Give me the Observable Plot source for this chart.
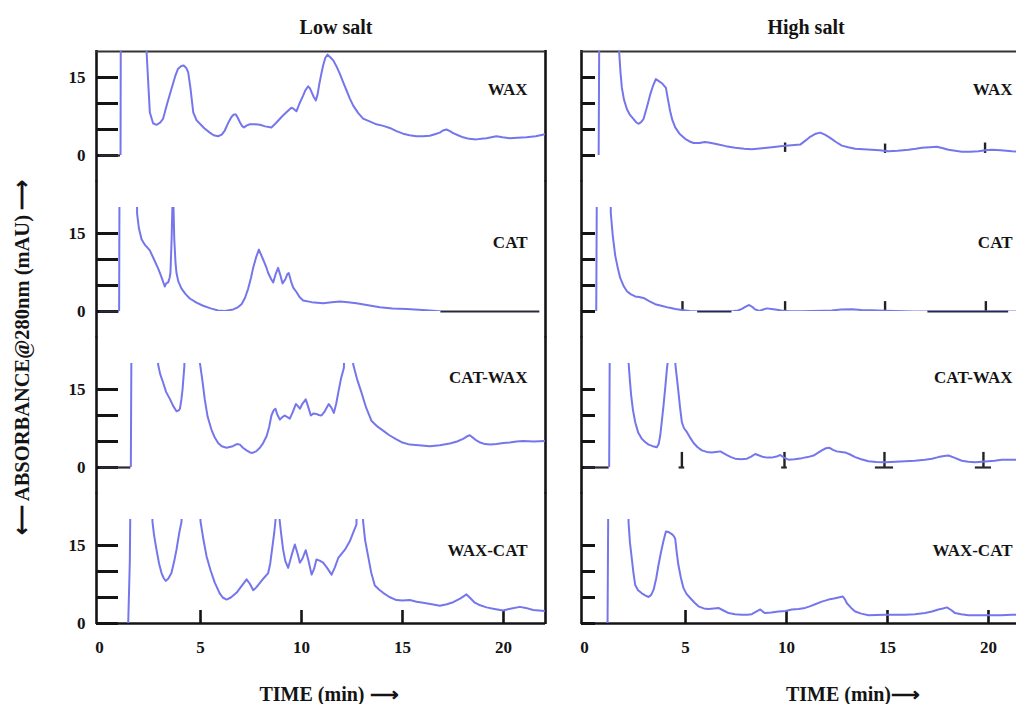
<!DOCTYPE html>
<html><head><meta charset="utf-8">
<script src="https://cdn.jsdelivr.net/npm/d3@7"></script>
<script src="https://cdn.jsdelivr.net/npm/@observablehq/plot@0.6"></script>
<style>
html,body{margin:0;padding:0;background:#fff;overflow:hidden;width:1016px;height:704px;}
#chart{width:1016px;height:704px;overflow:hidden;position:relative;}
</style></head><body><div id="chart"></div>
<script>
// ---------- categories & ticks ----------
const salts = ["Low salt", "High salt"];
const traces = ["WAX", "CAT", "CAT-WAX", "WAX-CAT"];
const xTickValues = [0, 5, 10, 15, 20];
const yTickValues = [0, 5, 10, 15];
const yTickLabelValues = [0, 15];

// ---------- chromatograms: [time (min), absorbance (mAU)] ; 40 = off-scale ----------
const lowWAX = [[1.0,0],[1.04,0],[1.06,40],[2.28,40],[2.33,19.9],[2.49,8.3],[2.65,6.2],[2.82,5.9],[3.0,6.3],[3.15,7.1],[3.35,10],[3.56,12.8],[3.75,15.3],[3.89,16.7],[4.05,17.2],[4.17,17.3],[4.3,16.8],[4.39,16.0],[4.5,13],[4.64,8.3],[4.8,6.8],[4.97,6.1],[5.2,5.2],[5.46,4.4],[5.65,3.9],[5.87,3.7],[6.05,4.0],[6.2,4.8],[6.4,6.5],[6.53,7.4],[6.65,7.9],[6.75,7.9],[6.85,7.2],[6.95,6.4],[7.05,5.7],[7.15,5.4],[7.3,5.8],[7.44,6.0],[7.7,6.0],[7.94,5.9],[8.2,5.6],[8.51,5.4],[8.75,6.3],[9.01,7.4],[9.25,8.3],[9.5,9.2],[9.6,9.0],[9.75,8.5],[9.9,10],[10.08,11.5],[10.2,12.6],[10.33,13.3],[10.42,12.9],[10.5,12.2],[10.6,11.3],[10.71,10.6],[10.8,11.8],[10.87,13.5],[10.97,15.5],[11.07,17.3],[11.18,18.8],[11.29,19.4],[11.45,18.8],[11.57,18.3],[11.75,17.0],[11.9,15.7],[12.05,14.2],[12.23,12.5],[12.4,10.9],[12.56,9.6],[12.8,8.2],[13.05,7.1],[13.4,6.5],[13.71,6.0],[14.05,5.7],[14.37,5.3],[14.7,4.7],[15.03,4.2],[15.35,3.9],[15.69,3.7],[16.0,3.7],[16.35,3.8],[16.6,4.1],[16.85,4.4],[17.0,4.8],[17.18,5.0],[17.35,4.7],[17.51,4.3],[17.75,3.9],[18.0,3.5],[18.3,3.2],[18.66,3.1],[18.9,3.2],[19.16,3.3],[19.4,3.5],[19.65,3.7],[19.95,3.5],[20.31,3.3],[20.7,3.4],[21.14,3.5],[21.6,3.7],[22.05,4.1]];
const lowCAT = [[0.97,0],[1.0,40],[1.83,40],[1.86,18.8],[1.95,16],[2.08,13.9],[2.25,12.8],[2.49,11.75],[2.7,10],[2.9,8.3],[3.05,6.8],[3.23,4.8],[3.3,5.4],[3.4,5.6],[3.47,6.5],[3.51,7.4],[3.57,14],[3.61,20.5],[3.66,20.5],[3.7,14],[3.76,9.5],[3.81,7.4],[3.9,5.8],[4.06,4.4],[4.25,3.4],[4.47,2.5],[4.8,1.7],[5.13,1.1],[5.5,0.6],[5.87,0.2],[6.2,0.1],[6.62,0.4],[6.85,0.8],[7.03,1.4],[7.2,2.6],[7.36,4.4],[7.5,6.5],[7.6,8.3],[7.75,10.4],[7.89,11.9],[8.0,10.9],[8.1,10.0],[8.25,8.6],[8.35,7.4],[8.5,6.2],[8.6,5.6],[8.72,7.2],[8.84,8.4],[8.95,7],[9.06,5.4],[9.2,6.2],[9.3,7.2],[9.37,7.4],[9.48,5.8],[9.59,4.6],[9.75,3.75],[9.9,2.8],[10.08,2.1],[10.5,1.8],[11.07,1.6],[11.5,1.8],[11.9,1.9],[12.3,1.8],[12.72,1.6],[13.3,1.2],[13.88,0.8],[14.5,0.6],[15.2,0.5],[16.0,0.3],[16.85,0.05]];
const lowCATWAX = [[1.55,0],[1.6,40],[2.85,40],[2.9,19.8],[3.0,18],[3.15,16.3],[3.3,14.5],[3.48,13.2],[3.65,11.8],[3.81,10.8],[3.92,11.0],[3.98,11.3],[4.05,13],[4.11,15],[4.2,19.5],[4.24,40],[4.93,40],[4.97,20.1],[5.1,16.5],[5.21,13.1],[5.35,9.8],[5.54,7.3],[5.7,5.8],[5.87,4.7],[6.05,4.1],[6.29,3.8],[6.6,4.1],[6.8,4.5],[6.95,4.4],[7.1,3.8],[7.28,3.3],[7.45,2.9],[7.57,2.8],[7.75,3.1],[7.94,3.8],[8.1,4.7],[8.27,6.0],[8.4,7.8],[8.51,10.0],[8.62,11.0],[8.71,11.3],[8.8,10.2],[8.93,9.2],[9.05,9.7],[9.17,10.0],[9.3,9.7],[9.42,9.4],[9.55,10.5],[9.72,12.2],[9.82,11.8],[9.92,11.3],[10.05,12.3],[10.21,13.1],[10.32,11.8],[10.46,10.0],[10.6,10.4],[10.74,10.3],[10.85,10.1],[10.99,10.0],[11.15,10.8],[11.35,12.2],[11.48,11.5],[11.6,10.5],[11.72,12.3],[11.82,14.4],[11.95,17],[12.1,19.2],[12.18,40],[12.52,40],[12.56,19.8],[12.75,17],[12.97,14.4],[13.2,11.5],[13.46,9.0],[13.75,7.9],[14.04,7.1],[14.35,6.2],[14.7,5.4],[15.0,4.8],[15.36,4.4],[15.8,4.3],[16.35,4.1],[16.85,4.3],[17.34,4.6],[17.7,5.0],[18.0,5.5],[18.2,6.0],[18.33,6.2],[18.5,5.7],[18.66,5.2],[18.85,4.8],[19.08,4.5],[19.35,4.4],[19.65,4.5],[20.0,4.7],[20.31,4.8],[20.65,5.0],[20.97,5.1],[21.5,5.0],[22.05,5.1]];
const lowWAXCAT = [[1.42,0],[1.5,12],[1.57,40],[2.58,40],[2.62,19.6],[2.7,17],[2.82,14.2],[2.95,11.5],[3.07,9.7],[3.18,8.7],[3.28,8.2],[3.4,8.6],[3.56,9.7],[3.7,12],[3.81,14.2],[3.95,17.5],[4.06,19.6],[4.1,40],[4.95,40],[5.0,19.6],[5.15,16],[5.3,12.9],[5.5,10.2],[5.71,7.8],[5.95,5.8],[6.1,5.0],[6.29,4.6],[6.5,5.0],[6.78,5.9],[7.05,7.3],[7.28,8.5],[7.45,7.6],[7.61,6.4],[7.75,6.9],[7.94,7.8],[8.15,8.8],[8.35,9.7],[8.45,11.5],[8.56,14.8],[8.65,17.5],[8.73,20.5],[8.9,20.5],[9.0,17],[9.09,14.2],[9.2,12],[9.34,10.7],[9.5,13],[9.67,15.2],[9.8,13.5],[9.92,11.7],[10.05,12.5],[10.21,14.1],[10.35,12],[10.5,9.4],[10.62,10.5],[10.74,12.3],[10.9,12.1],[11.07,11.7],[11.25,10.8],[11.49,9.4],[11.65,10.8],[11.82,12.6],[12.0,13.5],[12.15,14.2],[12.39,15.8],[12.55,17.4],[12.72,19.0],[12.8,40],[13.0,40],[13.05,19.6],[13.15,16],[13.3,12.9],[13.45,9.8],[13.63,7.3],[13.85,6.5],[14.04,5.9],[14.35,5.1],[14.7,4.5],[15.0,4.4],[15.36,4.5],[15.7,4.2],[16.02,4.0],[16.45,3.7],[16.85,3.4],[17.2,3.7],[17.51,4.1],[17.85,4.8],[18.17,5.6],[18.35,4.9],[18.58,4.0],[18.85,3.5],[19.16,3.1],[19.55,2.8],[19.98,2.5],[20.4,2.9],[20.81,3.2],[21.1,3.0],[21.47,2.6],[22.05,2.4]];

const highWAX = [[0.7,0],[0.75,40],[1.68,40],[1.72,19.6],[1.78,16],[1.85,13],[1.95,10.8],[2.1,8.9],[2.25,7.8],[2.43,7.0],[2.55,6.4],[2.67,6.1],[2.8,6.4],[2.92,7.0],[3.08,9.2],[3.25,11.7],[3.4,13.5],[3.53,14.7],[3.68,14.3],[3.83,13.9],[4.03,13.0],[4.12,11],[4.24,8.5],[4.35,6.8],[4.49,5.4],[4.7,4.2],[4.98,3.2],[5.2,2.7],[5.4,2.4],[5.7,2.4],[5.95,2.6],[6.14,2.5],[6.4,2.3],[6.63,2.1],[7.0,1.8],[7.46,1.5],[7.9,1.3],[8.28,1.2],[8.8,1.4],[9.27,1.6],[9.7,1.8],[10.1,1.9],[10.4,2.0],[10.68,2.1],[10.95,2.9],[11.17,3.6],[11.45,4.2],[11.67,4.4],[11.9,4.0],[12.16,3.4],[12.45,2.6],[12.74,1.9],[13.05,1.6],[13.4,1.3],[13.8,1.2],[14.22,1.1],[14.6,1.0],[15.05,0.8],[15.5,0.9],[16.04,1.1],[16.4,1.3],[16.7,1.5],[17.1,1.6],[17.44,1.7],[17.75,1.4],[18.02,1.1],[18.35,0.9],[18.68,0.7],[19.1,0.7],[19.5,0.8],[19.85,1.0],[20.17,1.1],[20.6,1.0],[21.16,0.8],[21.6,0.7],[22.05,0.7]];
const highCAT = [[0.58,0],[0.63,40],[1.26,40],[1.3,18.9],[1.4,14.5],[1.52,10.75],[1.65,8.3],[1.77,6.4],[1.95,4.8],[2.1,3.9],[2.3,3.3],[2.51,2.9],[2.7,2.8],[2.92,2.6],[3.2,2.0],[3.5,1.4],[3.8,1.1],[4.16,0.75],[4.5,0.5],[4.82,0.3],[5.2,0.1],[5.64,0],[6.1,0],[6.63,0],[7.0,0],[7.38,0.1],[7.6,0.2],[7.79,0.5],[8.0,1.0],[8.15,1.25],[8.3,0.9],[8.45,0.4],[8.6,0.2],[8.7,0.15],[8.85,0.4],[9.03,0.6],[9.25,0.5],[9.44,0.4],[9.75,0.2],[10.1,0.05],[10.7,0.05],[11.25,0.1],[11.8,0.15],[12.24,0.2],[12.7,0.4],[13.23,0.45],[13.7,0.3],[14.22,0.25],[14.88,0.15],[15.4,0.1],[15.87,0.05],[16.3,0],[17.0,0],[18.0,0],[19.0,0],[20.0,0],[21.2,0],[22.05,0]];
const highCATWAX = [[1.22,0],[1.27,40],[2.14,40],[2.18,20.3],[2.24,17],[2.31,13.8],[2.4,11],[2.51,8.7],[2.65,6.8],[2.84,5.5],[3.0,4.9],[3.17,4.4],[3.38,4.1],[3.58,3.9],[3.67,4.5],[3.75,6.2],[3.83,9],[3.91,11.9],[4.0,15.5],[4.08,19.0],[4.14,21],[4.47,21],[4.52,19],[4.58,17],[4.65,14.5],[4.73,11.5],[4.82,8.7],[4.92,7.6],[5.07,6.8],[5.22,5.8],[5.4,4.7],[5.6,3.9],[5.81,3.3],[6.05,3.0],[6.3,2.9],[6.5,3.0],[6.72,3.1],[6.9,2.7],[7.05,2.4],[7.25,2.0],[7.46,1.7],[7.75,1.6],[8.04,1.7],[8.25,2.1],[8.45,2.6],[8.65,2.3],[8.86,2.0],[9.05,1.9],[9.27,1.9],[9.5,2.1],[9.69,2.4],[9.88,1.9],[10.1,1.5],[10.4,1.6],[10.76,1.8],[11.05,2.0],[11.34,2.3],[11.55,2.8],[11.75,3.3],[11.95,3.7],[12.11,3.8],[12.3,3.4],[12.49,3.1],[12.7,3.0],[12.9,2.9],[13.15,2.5],[13.4,2.0],[13.7,1.6],[14.06,1.2],[14.45,1.05],[14.88,1.0],[15.4,1.1],[15.87,1.2],[16.35,1.3],[16.86,1.5],[17.2,1.7],[17.52,2.0],[17.8,2.2],[18.02,2.3],[18.3,1.9],[18.68,1.3],[19.0,1.1],[19.34,1.0],[19.65,1.1],[20.0,1.2],[20.3,1.3],[20.66,1.5],[21.0,1.5],[21.32,1.5],[21.7,1.6],[22.05,1.6]];
const highWAXCAT = [[1.14,0],[1.2,40],[2.14,40],[2.18,19.4],[2.25,15.5],[2.34,12.5],[2.42,9.8],[2.51,7.4],[2.65,6.4],[2.84,5.8],[3.0,5.4],[3.17,5.1],[3.3,5.5],[3.42,6.5],[3.55,8.7],[3.66,11.2],[3.78,13.6],[3.91,15.9],[4.03,17.7],[4.15,17.6],[4.32,17.2],[4.42,16.8],[4.49,16.3],[4.57,13.5],[4.65,11.2],[4.77,8.8],[4.9,6.8],[5.05,5.7],[5.23,4.9],[5.45,4.0],[5.64,3.3],[5.9,2.9],[6.14,2.8],[6.4,2.9],[6.63,3.0],[6.88,2.5],[7.13,2.0],[7.45,1.8],[7.79,1.7],[8.05,1.7],[8.28,1.8],[8.5,2.3],[8.7,2.7],[8.82,2.3],[8.94,2.0],[9.25,2.1],[9.6,2.3],[9.95,2.4],[10.26,2.7],[10.6,2.8],[10.92,3.0],[11.15,3.3],[11.42,3.7],[11.75,4.2],[12.08,4.6],[12.35,4.8],[12.57,5.0],[12.79,5.2],[12.9,4.6],[12.99,3.9],[13.2,3.0],[13.4,2.3],[13.7,1.9],[14.06,1.6],[14.45,1.65],[14.88,1.7],[15.4,1.7],[15.87,1.7],[16.35,1.8],[16.86,2.0],[17.2,2.3],[17.52,2.7],[17.75,2.9],[17.94,3.1],[18.15,2.6],[18.35,2.0],[18.65,1.8],[19.01,1.6],[19.5,1.6],[20.0,1.6],[20.6,1.6],[21.16,1.7],[22.05,1.6]];

// dark pre-injection / baseline segments: [salt, trace, from, to]
const baselineSegments = [["Low salt","WAX",0,1.04],["Low salt","CAT",0,0.97],["Low salt","CAT",16.9,21.8],["Low salt","CAT-WAX",0,1.55],["High salt","CAT",5.6,7.3],["High salt","CAT",17.0,21.0],["High salt","CAT-WAX",0,1.22],["High salt","CAT-WAX",4.68,4.96],["High salt","CAT-WAX",9.76,10.04],["High salt","CAT-WAX",14.4,15.3],["High salt","CAT-WAX",19.35,20.15]];
// small dark marker ticks on the high-salt traces: [trace, time, low, high]
const markerTicks = [["WAX",9.93,0.6,2.4],["WAX",14.88,0.4,2.2],["WAX",19.83,0.4,2.4],["CAT",4.85,0,1.9],["CAT",9.93,0,1.9],["CAT",14.88,0,1.9],["CAT",19.87,0,1.9],["CAT-WAX",4.82,0,2.9],["CAT-WAX",9.9,0,2.9],["CAT-WAX",14.85,0,2.9],["CAT-WAX",19.75,0,2.9]];

// ---------- layout & style ----------
const W = 1040, H = 704, mL = 96, mR = 10, mT = 51, mB = 81;
const padX = 36 / 485, padY = 1 / 3;
const panelW = (W - mL - mR) / (2 - padX) * (1 - padX);
const panelH = (H - mT - mB) / (4 - padY) * (1 - padY);
const gapY = panelH * padY / (1 - padY);
const xDomain = [-0.15, 22.08];
const yDomain = [0, 20];
const lineColor = "#7676ec";
const ink = "#141414";
const font = "'Liberation Serif','Times New Roman',Times,serif";

const series = {
  "Low salt": {"WAX": lowWAX, "CAT": lowCAT, "CAT-WAX": lowCATWAX, "WAX-CAT": lowWAXCAT},
  "High salt": {"WAX": highWAX, "CAT": highCAT, "CAT-WAX": highCATWAX, "WAX-CAT": highWAXCAT}
};
const lineRows = [];
for (const s of salts) for (const tr of traces)
  for (const [t, v] of series[s][tr]) lineRows.push({salt: s, trace: tr, key: s + "|" + tr, t, v});

const cells = [];
for (const s of salts) for (const tr of traces) cells.push({salt: s, trace: tr});

const yTickRows = [];
for (const c of cells) for (const v of yTickValues) yTickRows.push({...c, v});
const yLabelRows = [];
for (const tr of traces) for (const v of yTickLabelValues) yLabelRows.push({salt: "Low salt", trace: tr, v, label: String(v)});
const xTickRows = [];
for (const s of salts) for (const t of xTickValues) xTickRows.push({salt: s, trace: "WAX-CAT", t, label: String(t)});

const baseRows = baselineSegments.map(([salt, trace, a, b]) => ({salt, trace, a, b, v: 0}));
const markRows = markerTicks.map(([trace, t, lo, hi]) => ({salt: "High salt", trace, t, lo, hi}));

const labelDy = {"WAX": 38, "CAT": 35, "CAT-WAX": 14, "WAX-CAT": 31};
const boldText = {fontWeight: "bold", fill: ink};

const marks = [];
// frame: left & right borders bridging the gaps between rows
traces.forEach((tr, i) => {
  const rows = [];
  for (const s of salts) { rows.push({salt: s, trace: tr, x: xDomain[0]}); rows.push({salt: s, trace: tr, x: xDomain[1]}); }
  marks.push(Plot.ruleX(rows, {x: "x", fx: "salt", fy: "trace", stroke: ink, strokeWidth: 2.6,
    insetTop: i === 0 ? -1 : -gapY / 2 - 0.5,
    insetBottom: i === traces.length - 1 ? -1 : -gapY / 2 - 0.5}));
});
marks.push(Plot.ruleY(salts.map(s => ({salt: s, trace: "WAX", y: yDomain[1]})), {y: "y", fx: "salt", fy: "trace", stroke: "#333", strokeWidth: 2}));
marks.push(Plot.ruleY(salts.map(s => ({salt: s, trace: "WAX-CAT", y: yDomain[0]})), {y: "y", fx: "salt", fy: "trace", stroke: ink, strokeWidth: 2.6}));

// y ticks (inward)
marks.push(Plot.tickY(yTickRows.filter(d => d.salt === "Low salt"), {y: "v", fx: "salt", fy: "trace", stroke: ink, strokeWidth: 3, insetRight: panelW - 22}));
marks.push(Plot.tickY(yTickRows.filter(d => d.salt === "High salt"), {y: "v", fx: "salt", fy: "trace", stroke: ink, strokeWidth: 3, insetRight: panelW - 14}));
// x ticks (inward, bottom)
marks.push(Plot.tickX(xTickRows.filter(d => d.t > 0), {x: "t", fx: "salt", fy: "trace", stroke: ink, strokeWidth: 2.6, insetTop: panelH - 13}));

// baseline segments & marker ticks
marks.push(Plot.ruleY(baseRows, {y: "v", x1: "a", x2: "b", fx: "salt", fy: "trace", stroke: "#2a2a3a", strokeWidth: 2.2}));
marks.push(Plot.ruleX(markRows, {x: "t", y1: "lo", y2: "hi", fx: "salt", fy: "trace", stroke: "#222", strokeWidth: 2.4}));

// chromatogram traces
marks.push(Plot.line(lineRows, {x: "t", y: "v", z: "key", fx: "salt", fy: "trace", stroke: lineColor, strokeWidth: 2, clip: true, strokeLinejoin: "round"}));

// tick labels
marks.push(Plot.text(yLabelRows, {y: "v", text: "label", fx: "salt", fy: "trace", frameAnchor: "left", dx: -11, textAnchor: "end", lineAnchor: "middle", fontSize: 17, ...boldText}));
marks.push(Plot.text(xTickRows, {x: "t", text: "label", fx: "salt", fy: "trace", frameAnchor: "bottom", dy: 24, lineAnchor: "middle", fontSize: 17, ...boldText}));

// trace labels
for (const tr of traces) {
  marks.push(Plot.text(cells.filter(c => c.trace === tr), {text: "trace", fx: "salt", fy: "trace", frameAnchor: "top-right", textAnchor: "end", lineAnchor: "middle", dx: -18, dy: labelDy[tr], fontSize: 17, ...boldText}));
}
// panel titles
marks.push(Plot.text([{salt: "Low salt", trace: "WAX"}], {text: "salt", fx: "salt", fy: "trace", frameAnchor: "top", dx: 15, dy: -24, lineAnchor: "middle", fontSize: 20, ...boldText}));
marks.push(Plot.text([{salt: "High salt", trace: "WAX"}], {text: "salt", fx: "salt", fy: "trace", frameAnchor: "top", dx: 0, dy: -24, lineAnchor: "middle", fontSize: 20, ...boldText}));
// axis titles
marks.push(Plot.text([{salt: "Low salt", trace: "WAX-CAT", label: "TIME (min) \u27F6"}], {text: "label", fx: "salt", fy: "trace", frameAnchor: "bottom", dx: 8, dy: 71, lineAnchor: "middle", fontSize: 20, ...boldText}));
marks.push(Plot.text([{salt: "High salt", trace: "WAX-CAT", label: "TIME (min)\u27F6"}], {text: "label", fx: "salt", fy: "trace", frameAnchor: "bottom", dx: 47, dy: 71, lineAnchor: "middle", fontSize: 20, ...boldText}));
marks.push(Plot.text([{salt: "Low salt", trace: "CAT-WAX", label: "\u27F5 ABSORBANCE@280nm (mAU) \u27F6"}], {text: "label", fx: "salt", fy: "trace", frameAnchor: "top-left", rotate: -90, dx: -74, dy: -6, textAnchor: "middle", lineAnchor: "middle", fontSize: 20.5, ...boldText}));

const chart = Plot.plot({
  width: W, height: H,
  marginLeft: mL, marginRight: mR, marginTop: mT, marginBottom: mB,
  x: {domain: xDomain, axis: null},
  y: {domain: yDomain, axis: null},
  fx: {domain: salts, axis: null, paddingInner: padX, paddingOuter: 0, round: false},
  fy: {domain: traces, axis: null, paddingInner: padY, paddingOuter: 0, round: false},
  style: {fontFamily: font, fontWeight: "bold", background: "#fff", color: ink, maxWidth: "none", overflow: "visible"},
  marks
});
document.getElementById("chart").appendChild(chart);
</script>
</body></html>
